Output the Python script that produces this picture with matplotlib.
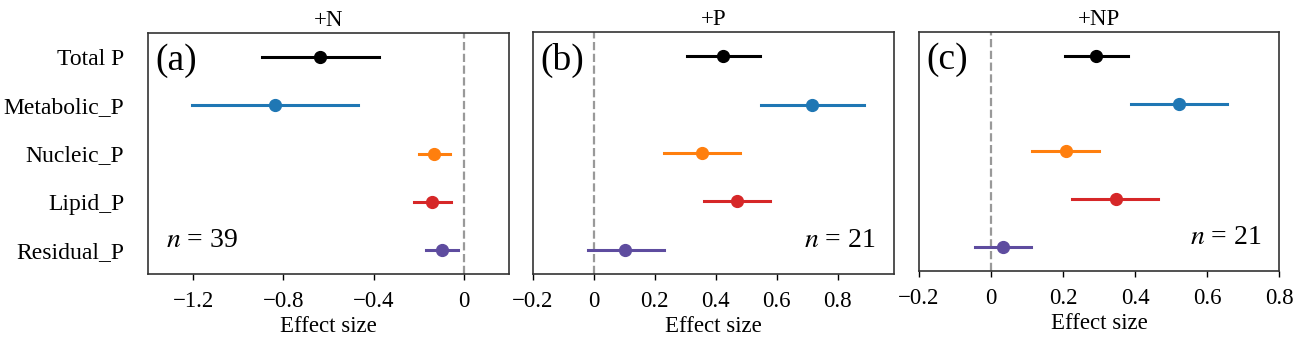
import matplotlib
matplotlib.use("Agg")
import matplotlib.pyplot as plt
import numpy as np

plt.rcParams['font.family'] = ['Liberation Serif', 'DejaVu Serif']
plt.rcParams['mathtext.fontset'] = 'stix'
plt.rcParams['axes.unicode_minus'] = True

# categories (top to bottom)
cats = ["Total P", "Metabolic_P", "Nucleic_P", "Lipid_P", "Residual_P"]
colors = ["black", "#1f77b4", "#ff7f0e", "#d62728", "#5e4c9f"]

# +N
mean_n = [-0.636, -0.838, -0.133, -0.139, -0.098]
low_n = [-0.894, -1.205, -0.200, -0.222, -0.169]
high_n = [-0.376, -0.471, -0.062, -0.058, -0.028]

# +P
mean_p = [0.425, 0.716, 0.356, 0.470, 0.103]
low_p = [0.307, 0.548, 0.231, 0.363, -0.021]
high_p = [0.545, 0.886, 0.481, 0.579, 0.229]

# +NP
mean_np = [0.292, 0.523, 0.207, 0.346, 0.033]
low_np = [0.206, 0.390, 0.115, 0.226, -0.045]
high_np = [0.380, 0.656, 0.301, 0.464, 0.110]

panels = [
    ("+N", "(a)", 39, mean_n, low_n, high_n, (-1.4, 0.2), [-1.2, -0.8, -0.4, 0]),
    ("+P", "(b)", 21, mean_p, low_p, high_p, (-0.2, 0.985), [-0.2, 0, 0.2, 0.4, 0.6, 0.8]),
    ("+NP", "(c)", 21, mean_np, low_np, high_np, (-0.2, 0.8), [-0.2, 0, 0.2, 0.4, 0.6, 0.8]),
]
positions = [[0.1139, 0.1965, 0.2779, 0.7067],
             [0.4103, 0.1965, 0.2779, 0.7097],
             [0.7075, 0.2053, 0.2771, 0.7009]]

fig = plt.figure(figsize=(12.99, 3.41), dpi=100)

def fmt(v):
    if abs(v) < 1e-9:
        return "0"
    return ("%.1f" % v).replace("-", "\u2212")

for i, (title, lab, n, m, lo, hi, xl, ticks) in enumerate(panels):
    ax = fig.add_axes(positions[i])
    y = np.arange(len(cats))[::-1]
    ax.axvline(0, color="#999999", ls="--", lw=1.6, zorder=1)
    for k in range(len(cats)):
        ax.plot([lo[k], hi[k]], [y[k], y[k]], color=colors[k], lw=2.2, zorder=2)
        ax.plot(m[k], y[k], "o", color=colors[k], ms=8.5, zorder=3)
    ax.set_xlim(*xl)
    ax.set_ylim(-0.5, 4.5)
    ax.set_xticks(ticks)
    ax.set_xticklabels([fmt(t) for t in ticks], fontsize=16.5)
    ax.set_yticks(y)
    if i == 0:
        ax.set_yticklabels(cats, fontsize=17)
    else:
        ax.set_yticklabels([])
    ax.tick_params(axis="y", length=0, pad=17)
    ax.tick_params(axis="x", length=4, width=1, pad=8)
    ax.set_xlabel("Effect size", fontsize=16.5, labelpad=3)
    ax.set_title(title, fontsize=16.5, pad=5)
    for s in ax.spines.values():
        s.set_color("#333333")
        s.set_linewidth(1.2)
    ax.text(0.02, 0.955, lab, transform=ax.transAxes, fontsize=27, va="top", ha="left")
    if i == 0:
        ax.text(0.05, 0.14, r"$n$ = %d" % n, transform=ax.transAxes, fontsize=20,
                va="center", ha="left")
    else:
        ax.text(0.95, 0.14, r"$n$ = %d" % n, transform=ax.transAxes, fontsize=20,
                va="center", ha="right")

fig.savefig("out.png", dpi=100)
